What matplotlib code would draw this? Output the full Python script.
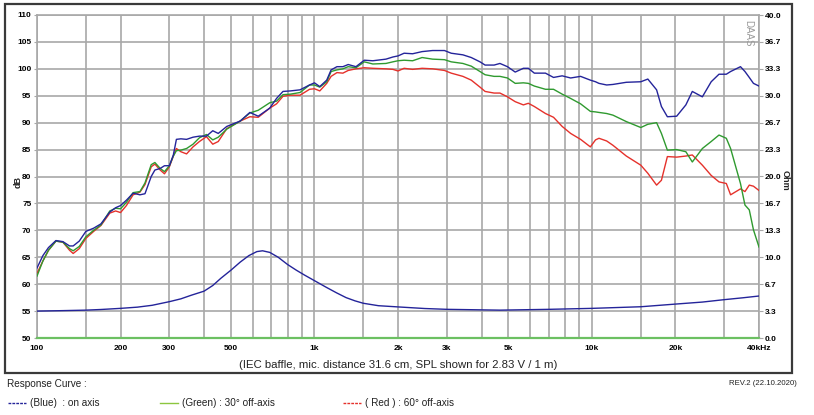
import matplotlib
matplotlib.use("Agg")
import matplotlib.pyplot as plt
from matplotlib.patches import Rectangle
from matplotlib.lines import Line2D

plt.rcParams['font.family'] = ['Liberation Sans', 'DejaVu Sans']

# ---------------- data ----------------
freq = [100, 105, 110, 117, 124, 131, 135, 142, 150, 160, 170, 183, 192, 200, 210, 222, 235,
        245, 258, 266, 278, 288, 300, 310, 318, 330, 346, 365, 385, 408, 430, 450, 483, 540,
        585, 627, 690, 730, 770, 820, 887, 960, 1000, 1045, 1107, 1148, 1205, 1266, 1323,
        1411, 1512, 1623, 1810, 1917, 2000, 2104, 2258, 2443, 2664, 2941, 3110, 3427, 3673,
        3950, 4120, 4440, 4660, 4960, 5290, 5660, 5900, 6200, 6800, 7270, 7810, 8380, 9100,
        9870, 10300, 10600, 11300, 11900, 13300, 15000, 15900, 17100, 17800, 18700, 20200,
        21800, 23000, 25000, 26900, 28700, 30500, 31600, 34300, 35600, 36900, 38200, 40000]

spl_on_axis = [63.0, 65.3, 66.8, 68.1, 67.9, 67.1, 67.1, 68.0, 69.8, 70.4, 71.2, 73.4, 74.2,
               74.6, 75.6, 76.9, 76.6, 76.8, 80.0, 81.2, 81.5, 82.0, 82.0, 84.0, 86.9, 87.0,
               86.9, 87.3, 87.5, 87.5, 88.5, 88.0, 89.3, 90.3, 91.9, 91.2, 92.7, 94.5, 95.8,
               95.9, 96.1, 97.0, 97.4, 96.7, 97.9, 99.8, 100.4, 100.4, 100.8, 100.4, 101.6,
               101.5, 101.8, 102.2, 102.4, 102.9, 102.8, 103.2, 103.4, 103.4, 102.9, 102.6,
               102.1, 101.3, 100.7, 100.7, 101.0, 100.4, 99.4, 100.1, 100.1, 99.2, 99.2, 98.4,
               98.7, 98.3, 98.6, 97.9, 97.6, 97.3, 97.0, 97.1, 97.5, 97.6, 98.1, 96.1, 93.0,
               91.1, 91.2, 93.3, 95.8, 94.8, 97.6, 99.0, 99.0, 99.5, 100.4, 99.5, 98.4, 97.3,
               96.8]

spl_30deg = [61.5, 64.3, 66.3, 68.0, 67.8, 66.6, 66.2, 67.0, 68.8, 70.0, 71.0, 73.6, 74.1,
             74.0, 75.2, 77.0, 77.2, 78.8, 82.2, 82.6, 81.5, 80.9, 82.0, 83.8, 84.8, 84.9,
             85.2, 86.0, 87.2, 87.8, 86.8, 87.3, 88.8, 90.3, 91.8, 92.3, 93.7, 94.0, 95.2,
             95.3, 95.6, 97.0, 97.0, 96.6, 97.6, 99.5, 99.8, 100.0, 100.4, 100.2, 101.3,
             100.9, 101.0, 101.3, 101.5, 101.6, 101.5, 102.1, 101.8, 101.7, 101.3, 101.0,
             100.5, 99.5, 98.9, 98.6, 98.6, 98.3, 97.3, 97.4, 97.3, 96.8, 96.2, 96.2, 95.3,
             94.5, 93.5, 92.1, 92.0, 91.9, 91.7, 91.4, 90.2, 89.1, 89.7, 90.0, 88.0, 84.9,
             85.0, 84.6, 82.7, 85.2, 86.5, 87.7, 87.1, 85.2, 78.7, 74.7, 73.8, 70.1, 66.9]

spl_60deg = [62.0, 64.3, 66.3, 68.0, 67.8, 66.3, 65.7, 66.6, 68.5, 69.8, 70.9, 73.2, 73.6,
             73.3, 74.6, 76.6, 77.1, 78.5, 81.8, 82.3, 81.2, 80.5, 81.8, 83.8, 85.2, 84.6,
             84.2, 85.5, 86.5, 87.4, 86.0, 86.5, 88.9, 90.3, 91.1, 91.0, 92.7, 93.5, 94.9,
             95.1, 95.1, 96.2, 96.3, 95.9, 97.3, 98.6, 99.3, 99.2, 99.7, 100.0, 100.2, 100.1,
             100.0, 99.9, 99.6, 100.1, 99.9, 100.1, 100.0, 99.7, 99.2, 98.6, 97.9, 96.6,
             95.8, 95.5, 95.5, 94.8, 93.9, 93.3, 93.6, 93.0, 91.7, 91.0, 89.3, 88.0, 86.9,
             85.5, 86.8, 87.1, 86.6, 85.8, 83.8, 82.1, 80.6, 78.4, 79.3, 83.7, 83.6, 83.8,
             84.0, 82.1, 80.2, 79.0, 78.7, 76.6, 77.7, 77.2, 78.4, 78.2, 77.4]

imp_freq = [100, 120, 150, 170, 200, 230, 260, 300, 330, 360, 400, 430, 460, 500, 540, 580,
            620, 650, 690, 740, 800, 860, 920, 1000, 1100, 1200, 1300, 1400, 1500, 1700, 2000,
            2500, 3000, 4660, 7000, 10000, 15000, 20000, 25000, 30000, 35000, 40000]
impedance = [3.33, 3.38, 3.45, 3.53, 3.67, 3.82, 4.05, 4.5, 4.85, 5.3, 5.8, 6.5, 7.4, 8.4,
             9.4, 10.2, 10.7, 10.8, 10.6, 10.0, 9.1, 8.4, 7.8, 7.1, 6.3, 5.6, 5.0, 4.6, 4.3,
             4.0, 3.85, 3.65, 3.55, 3.45, 3.55, 3.67, 3.87, 4.2, 4.45, 4.75, 4.98, 5.2]

grid_freqs = [100, 150, 200, 300, 400, 500, 600, 700, 800, 900, 1000, 1500, 2000, 3000,
              4000, 5000, 6000, 7000, 8000, 9000, 10000, 15000, 20000, 30000, 40000]
xtick_vals = [100, 200, 300, 500, 1000, 2000, 3000, 5000, 10000, 20000, 40000]
xtick_labels = ['100', '200', '300', '500', '1k', '2k', '3k', '5k', '10k', '20k', '40kHz']
db_ticks = list(range(50, 111, 5))
ohm_ticks = [0.0, 3.3, 6.7, 10.0, 13.3, 16.7, 20.0, 23.3, 26.7, 30.0, 33.3, 36.7, 40.0]

BLUE = '#24249a'
GREEN = '#2f9a2f'
RED = '#e5312b'
GRIDC = '#a8a8a8'

# ---------------- figure ----------------
W, H = 814, 415
fig = plt.figure(figsize=(W / 100, H / 100), dpi=100)
fig.patch.set_facecolor('white')

L, R_, T, B = 37, 759, 15, 338
ax = fig.add_axes([L / W, 1 - B / H, (R_ - L) / W, (B - T) / H])
ax.set_xscale('log')
ax.set_xlim(100, 40000)
ax.set_ylim(50, 110)

for f in grid_freqs:
    ax.axvline(f, color=GRIDC, lw=1.2, zorder=1)
for d in db_ticks:
    ax.axhline(d, color=GRIDC, lw=1.2, zorder=1)

ax.plot(freq, spl_60deg, color=RED, lw=1.0, zorder=3)
ax.plot(freq, spl_30deg, color=GREEN, lw=1.0, zorder=4)
ax.plot(freq, spl_on_axis, color=BLUE, lw=1.0, zorder=5)

ax.set_xticks(xtick_vals)
ax.set_xticklabels(xtick_labels, fontsize=6, fontweight='bold')
ax.xaxis.set_minor_locator(matplotlib.ticker.NullLocator())
ax.set_yticks(db_ticks)
ax.set_yticklabels([str(d) for d in db_ticks], fontsize=6, fontweight='bold')
ax.tick_params(axis='x', length=0, pad=5)
ax.tick_params(axis='y', length=2, pad=2, color=GRIDC)
for s in ['top', 'left', 'right']:
    ax.spines[s].set_color(GRIDC)
    ax.spines[s].set_linewidth(1.2)
ax.spines['bottom'].set_color('#6cc062')
ax.spines['bottom'].set_linewidth(1.6)

ax2 = ax.twinx()
ax2.set_ylim(0, 40)
ax2.plot(imp_freq, impedance, color=BLUE, lw=1.0, zorder=5)
ax2.set_yticks([i * 40 / 12 for i in range(13)])
ax2.set_yticklabels(['%.1f' % v for v in ohm_ticks], fontsize=6, fontweight='bold')
ax2.tick_params(axis='y', length=3, pad=1, color=GRIDC)
for s in ax2.spines.values():
    s.set_visible(False)

fig.text(18 / W, 1 - 182 / H, 'dB', rotation=90, fontsize=6.5, fontweight='bold',
         ha='center', va='center', color='#222222')
fig.text(785 / W, 1 - 180 / H, 'Ohm', rotation=270, fontsize=6.5, fontweight='bold',
         ha='center', va='center', color='#222222')

ax.text(0.992, 0.985, 'DAAS', transform=ax.transAxes, rotation=270, fontsize=7,
        color='#9a9a9a', ha='right', va='top', zorder=6)

# outer frame
fig.patches.append(Rectangle((5 / W, 1 - 373 / H), (792 - 5) / W, (373 - 4) / H,
                             transform=fig.transFigure, fill=False, ec='#3a3a3a', lw=1.6))

fig.text(398 / W, 1 - 365 / H,
         '(IEC baffle, mic. distance 31.6 cm, SPL shown for 2.83 V / 1 m)',
         ha='center', va='center', fontsize=8.2, color='#222222')

fig.text(7 / W, 1 - 384 / H, 'Response Curve :', ha='left', va='center', fontsize=7.2,
         color='#222222')
fig.text(797 / W, 1 - 383 / H, 'REV.2 (22.10.2020)', ha='right', va='center', fontsize=5.6,
         color='#222222')

legend_items = [(8, BLUE, '--', '(Blue)  : on axis'),
                (160, '#8cc63f', '-', '(Green) : 30\u00b0 off-axis'),
                (343, RED, '--', '( Red ) : 60\u00b0 off-axis')]
ly = 1 - 403 / H
for x0, c, ls, txt in legend_items:
    ln = Line2D([x0 / W, (x0 + 18) / W], [ly, ly], transform=fig.transFigure,
                color=c, lw=1.0)
    if ls == '--':
        ln.set_dashes((2, 0.8))
    fig.add_artist(ln)
    fig.text((x0 + 22) / W, ly, txt, ha='left', va='center', fontsize=7.2, color='#222222')

fig.savefig('out.png', dpi=100, facecolor='white')
